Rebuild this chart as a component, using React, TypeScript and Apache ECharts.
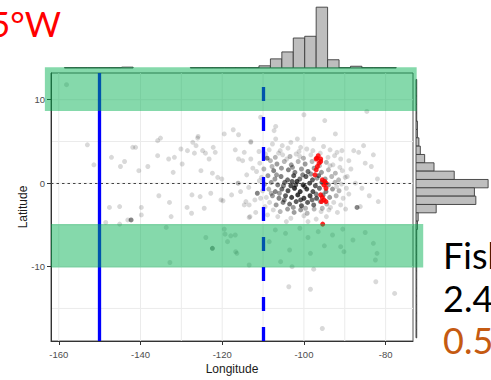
import React, { useEffect, useRef } from "react";
import * as echarts from "echarts";

// Axis extents of the scatter panel
const LON_MIN = -161.9;
const LON_MAX = -73.3;
const LAT_MIN = -18.9;
const LAT_MAX = 13.2;

// Labelled ticks and grid lines
const LON_TICKS = [-160, -140, -120, -100, -80];
const LAT_TICKS = [-10, 0, 10];
const LON_GRID = [-160, -150, -140, -130, -120, -110, -100, -90, -80];
const LAT_GRID = [-15, -10, -5, 0, 5, 10];

// Reference lines
const SOLID_LON = -150;
const DASHED_LON = -110;
const ZERO_LAT = 0;

// Highlighted latitude bands: [lonFrom, lonTo, latFrom, latTo]
const BANDS: [number, number, number, number][] = [
  [-163.4, -72.4, 8.65, 13.9],
  [-161.9, -70.8, -10.1, -4.9],
];

// Observations: [longitude, latitude, number of stacked records]
const GRAY_POINTS: [number, number, number][] = [
  [-158.1, 11.8, 1], [-153.0, 4.6, 1], [-151.4, 2.2, 1], [-147.1, 3.1, 1],
  [-144.9, 2.0, 1], [-143.9, 2.6, 1], [-147.6, -2.9, 1], [-145.1, -2.8, 1],
  [-145.1, -4.9, 1], [-143.1, -4.4, 1], [-148.5, -4.7, 1], [-141.9, 4.3, 1],
  [-141.2, 4.3, 1], [-140.4, 1.5, 1], [-138.2, 2.0, 1], [-135.8, 5.1, 1],
  [-135.1, 5.4, 1], [-135.8, 3.3, 1], [-133.1, 2.9, 1], [-131.7, 3.1, 1],
  [-132.0, 1.3, 1], [-130.1, 4.1, 1], [-129.8, 2.3, 1], [-128.5, 3.9, 1],
  [-127.2, 4.9, 1], [-126.4, 4.5, 1], [-126.0, 5.4, 1], [-125.9, 5.6, 1],
  [-126.8, 3.6, 1], [-124.8, 3.9, 1], [-124.1, 3.6, 1], [-123.2, 2.9, 1],
  [-122.2, 4.3, 1], [-121.7, 3.7, 1], [-125.2, 1.5, 1], [-122.4, 1.2, 1],
  [-121.1, 0.7, 1], [-120.1, 0.5, 1], [-119.5, 5.9, 1], [-117.3, 6.4, 1],
  [-116.0, 5.8, 1], [-116.8, 4.0, 1], [-116.0, 2.9, 1], [-115.0, 2.7, 1],
  [-113.0, 5.0, 1], [-113.0, 2.9, 1], [-114.6, 3.7, 1], [-116.1, 0.0, 2],
  [-135.5, -1.5, 1], [-132.9, -2.3, 1], [-127.4, -1.4, 1], [-125.4, -1.6, 1],
  [-122.8, -1.2, 1], [-117.7, -1.4, 1], [-128.6, -2.9, 1], [-127.5, -3.6, 1],
  [-124.4, -3.0, 1], [-132.5, -4.0, 1], [-139.8, -2.9, 1], [-139.8, -3.8, 1],
  [-142.3, -4.4, 4], [-120.3, -2.0, 1], [-119.8, -2.1, 1], [-114.2, -2.2, 1],
  [-113.4, -2.6, 1], [-111.8, -3.5, 1], [-113.2, -4.0, 1], [-133.7, -5.3, 1],
  [-124.0, -6.5, 1], [-122.4, -7.8, 3], [-119.5, -5.5, 1], [-119.3, -6.1, 1],
  [-117.9, -6.3, 1], [-116.8, -6.2, 1], [-118.7, -7.0, 1], [-116.7, -8.2, 1],
  [-132.8, -9.5, 1], [-116.4, -8.4, 1], [-103.5, -8.0, 1], [-98.4, -8.4, 1],
  [-105.7, -9.4, 1], [-102.9, -10.0, 1], [-97.6, -10.3, 1], [-82.5, -9.2, 1],
  [-82.1, -8.4, 1], [-90.2, -8.2, 1], [-103.7, -12.4, 1], [-98.4, -12.7, 1],
  [-82.4, -11.8, 1], [-77.8, -13.2, 1], [-95.5, -17.4, 1], [-113.4, -9.8, 1],
  [-110.6, 7.9, 1], [-106.9, 6.8, 1], [-100.0, 8.2, 1], [-94.9, 7.5, 1],
  [-84.6, 8.6, 1], [-107.0, -5.6, 1], [-104.5, -6.0, 1], [-101.0, -5.4, 1],
  [-99.0, -6.5, 1], [-96.5, -5.8, 1], [-93.0, -6.2, 1], [-90.5, -5.5, 1],
  [-88.0, -6.8, 1], [-85.0, -5.9, 1], [-83.0, -7.2, 1], [-108.5, -7.0, 1],
  [-95.0, -7.5, 1], [-91.0, -7.6, 1],
  [-107.3, 6.3, 1], [-92.3, 5.9, 1], [-113.0, 4.9, 1], [-107.7, 4.7, 1],
  [-106.9, 5.3, 1], [-105.3, 4.5, 1], [-103.2, 4.9, 1], [-101.6, 5.3, 1],
  [-100.8, 4.3, 1], [-97.6, 5.3, 1], [-91.9, 3.7, 1], [-90.7, 3.9, 1],
  [-87.8, 3.9, 1], [-86.6, 3.7, 1], [-85.4, 4.5, 1], [-89.0, 2.7, 1],
  [-85.0, 2.4, 1], [-89.4, 0.8, 1], [-87.4, 0.0, 1], [-85.8, -0.6, 1],
  [-87.0, -2.9, 4], [-86.2, -2.8, 1], [-89.8, -3.1, 1], [-113.4, -4.1, 1],
  [-114.6, -2.6, 1], [-111.4, -1.2, 4], [-109.0, 3.0, 4], [-83.5, 2.0, 1],
  [-82.0, 0.5, 1], [-84.0, -1.5, 1], [-81.8, -2.2, 1], [-83.0, 3.4, 1],
  [-114.0, 1.0, 1], [-113.5, -0.5, 1], [-112.5, 1.8, 1], [-112.0, -2.0, 1],
  [-115.5, -1.0, 1],
  // dense core
  [-108.5, 4.0, 1], [-105.8, 3.9, 1], [-103.9, 4.2, 1], [-101.2, 3.8, 1],
  [-99.3, 4.1, 1], [-97.8, 3.9, 1], [-95.2, 4.4, 1], [-93.6, 4.0, 1],
  [-109.4, 3.5, 1], [-107.0, 3.1, 2], [-105.2, 3.4, 1], [-103.4, 3.2, 2],
  [-101.9, 3.5, 1], [-100.1, 3.0, 2], [-98.3, 3.4, 1], [-96.0, 3.6, 1],
  [-94.1, 3.1, 1], [-92.5, 3.3, 1], [-91.0, 2.9, 1],
  [-110.8, 2.4, 1], [-108.2, 2.7, 2], [-106.6, 2.3, 3], [-104.8, 2.6, 2],
  [-103.1, 2.2, 3], [-101.4, 2.6, 2], [-99.7, 2.3, 3], [-98.0, 2.6, 2],
  [-96.2, 2.1, 2], [-94.5, 2.5, 2], [-92.9, 2.2, 1], [-91.2, 1.9, 1],
  [-111.6, 1.4, 1], [-109.8, 1.7, 2], [-107.4, 1.5, 4], [-105.5, 1.8, 3],
  [-103.8, 1.6, 4], [-102.2, 1.3, 4], [-100.6, 1.7, 3], [-99.0, 1.4, 5],
  [-97.5, 1.8, 3], [-95.7, 1.3, 3], [-94.0, 1.6, 2], [-92.3, 1.2, 2],
  [-90.6, 1.5, 1],
  [-110.4, 0.7, 1], [-108.8, 0.9, 3], [-107.1, 0.5, 3], [-105.6, 0.8, 4],
  [-104.0, 0.4, 5], [-102.5, 0.9, 6], [-101.0, 0.5, 5], [-99.5, 0.8, 6],
  [-97.9, 0.4, 6], [-96.4, 0.9, 5], [-94.8, 0.5, 3], [-93.2, 0.8, 2],
  [-91.5, 0.4, 2], [-89.9, 0.7, 1],
  [-109.6, -0.1, 2], [-108.0, 0.1, 3], [-106.4, -0.2, 4], [-104.7, 0.1, 5],
  [-103.2, -0.3, 7], [-101.7, 0.2, 8], [-100.2, -0.2, 8], [-98.6, 0.0, 7],
  [-97.2, -0.3, 6], [-95.6, 0.1, 5], [-94.0, -0.2, 3], [-92.4, 0.1, 2],
  [-90.8, -0.1, 1],
  [-110.1, -0.9, 1], [-108.6, -0.7, 2], [-107.0, -1.0, 4], [-105.4, -0.7, 5],
  [-103.9, -0.9, 7], [-102.3, -0.6, 9], [-100.9, -1.0, 9], [-99.3, -0.7, 8],
  [-97.8, -1.0, 7], [-96.2, -0.6, 5], [-94.6, -1.0, 4], [-93.0, -0.7, 3],
  [-91.4, -0.9, 2], [-89.6, -0.6, 1],
  [-109.2, -1.7, 1], [-107.7, -1.5, 3], [-106.1, -1.8, 4], [-104.5, -1.5, 6],
  [-103.0, -1.7, 8], [-101.5, -1.4, 9], [-100.0, -1.8, 8], [-98.5, -1.5, 8],
  [-96.9, -1.8, 6], [-95.3, -1.4, 4], [-93.7, -1.7, 3], [-92.1, -1.5, 2],
  [-90.4, -1.8, 1],
  [-108.4, -2.3, 1], [-106.8, -2.6, 3], [-105.1, -2.3, 4], [-103.5, -2.5, 5],
  [-101.9, -2.2, 6], [-100.6, -2.7, 6], [-99.1, -2.3, 6], [-97.6, -2.6, 5],
  [-96.0, -2.2, 3], [-94.4, -2.5, 2], [-92.7, -2.3, 1], [-91.0, -2.6, 1],
  [-107.5, -3.2, 1], [-105.8, -3.4, 2], [-104.0, -3.1, 3], [-102.4, -3.5, 3],
  [-100.8, -3.2, 3], [-99.2, -3.6, 2], [-97.5, -3.1, 2], [-95.8, -3.4, 1],
  [-93.9, -3.2, 1], [-91.8, -3.5, 1],
  [-106.4, -4.0, 1], [-103.2, -4.2, 1], [-100.0, -3.9, 1], [-97.0, -4.3, 1],
  [-94.5, -4.0, 1],
  // records lying between the rows above
  [-107.8, 2.0, 2], [-104.2, 2.9, 1], [-102.8, 1.9, 3], [-100.3, 1.0, 4],
  [-98.3, 1.1, 3], [-96.8, 0.6, 3], [-105.0, -0.3, 4], [-102.0, -0.2, 6],
  [-99.8, -0.4, 5], [-97.0, -1.3, 4], [-104.8, -2.0, 4], [-102.6, -2.9, 3],
  [-99.6, -3.0, 2], [-98.0, -2.0, 5], [-100.8, -2.0, 6], [-106.0, -1.2, 3],
  [-108.0, -1.2, 2], [-109.5, -2.8, 1], [-110.6, -1.8, 1], [-110.9, 0.3, 1],
  [-93.5, -2.9, 1], [-92.0, -0.4, 1], [-93.6, 2.1, 1], [-106.2, 3.6, 1],
  [-101.0, 3.2, 1], [-97.0, 3.0, 1], [-104.3, -4.6, 1], [-99.0, -4.6, 1],
  [-95.5, -3.0, 2], [-108.9, -3.8, 1], [-111.0, 3.8, 1], [-89.0, -1.3, 1],
  [-88.5, 1.7, 1], [-102.9, 0.2, 6], [-106.7, 1.0, 3],
];

// Highlighted observations: [longitude, latitude]
const RED_POINTS: [number, number][] = [
  [-96.8, 3.0], [-95.9, 2.9], [-97.0, 2.9], [-96.5, 3.3], [-96.3, 2.4],
  [-95.9, 2.6], [-96.7, 2.0], [-97.0, 1.6], [-97.3, 1.0], [-95.5, 0.4],
  [-94.9, 0.2], [-94.6, 0.0], [-95.1, -0.2], [-94.6, -0.6], [-95.9, -1.4],
  [-95.5, -1.7], [-95.1, -2.0], [-94.6, -2.2], [-95.7, -2.2], [-95.4, -4.9],
];

// Marginal histogram of longitude
const LON_BIN_START = -161.4;
const LON_BIN_WIDTH = 2.8;
const LON_COUNTS = [
  0, 1, 1, 1, 1, 1, 2, 0, 0, 0, 0, 0, 1, 1, 1, 1,
  1, 1, 5, 21, 37, 69, 73, 140, 19, 1, 4, 1, 1, 1, 0,
];

// Marginal histogram of latitude (bins run downward from the top edge)
const LAT_BIN_TOP = 12.44;
const LAT_BIN_WIDTH = 0.98;
const LAT_COUNTS = [
  1, 1, 1, 1, 1, 2, 2, 4, 6, 12, 25, 53, 100, 81, 83, 28,
  3, 2, 1, 1, 1, 1, 1, 1, 1, 1, 1, 1, 1, 1, 1, 0,
];

const PANEL = { left: 51, top: 73, width: 362, height: 273 };

export default function App() {
  const ref = useRef<HTMLDivElement>(null);

  useEffect(() => {
    if (!ref.current) return;
    const chart = echarts.init(ref.current, undefined, { renderer: "svg" });

    const lonHist = LON_COUNTS.map((c, i) => [
      LON_BIN_START + i * LON_BIN_WIDTH,
      LON_BIN_START + (i + 1) * LON_BIN_WIDTH,
      c,
    ]).filter((d) => d[2] > 0);
    const latHist = LAT_COUNTS.map((c, i) => [
      LAT_BIN_TOP - i * LAT_BIN_WIDTH,
      LAT_BIN_TOP - (i + 1) * LAT_BIN_WIDTH,
      c,
    ]).filter((d) => d[2] > 0);

    const barStyle = { fill: "#bebebe", stroke: "#3c3c3c", lineWidth: 0.9 };
    const gridColor = "#ebebeb";
    const sans = "Liberation Sans, Arial, sans-serif";
    const axisText = { color: "#4d4d4d", fontSize: 9.5, fontFamily: sans };

    const option: any = {
      animation: false,
      grid: [
        { ...PANEL, show: true, borderColor: "#555", borderWidth: 1, backgroundColor: "transparent" },
        { left: PANEL.left, width: PANEL.width, top: 5, height: 63 },
        { left: 416, top: PANEL.top, width: 78, height: PANEL.height },
      ],
      xAxis: [
        {
          type: "value", gridIndex: 0, min: LON_MIN, max: LON_MAX,
          splitLine: { show: false },
          axisLine: { onZero: false, lineStyle: { color: "#333", width: 1 } },
          axisTick: { show: true, length: 4, customValues: LON_TICKS, lineStyle: { color: "#333" } },
          axisLabel: { ...axisText, margin: 8, customValues: LON_TICKS },
          name: "Longitude", nameLocation: "middle", nameGap: 22, nameMoveOverlap: false,
          nameTextStyle: { color: "#1a1a1a", fontSize: 12, fontFamily: sans },
        },
        { type: "value", gridIndex: 1, min: LON_MIN, max: LON_MAX, show: false },
        { type: "value", gridIndex: 2, min: 0, max: 104, show: false },
      ],
      yAxis: [
        {
          type: "value", gridIndex: 0, min: LAT_MIN, max: LAT_MAX,
          splitLine: { show: false },
          axisLine: { onZero: false, lineStyle: { color: "#333", width: 1 } },
          axisTick: { show: true, length: 4, customValues: LAT_TICKS, lineStyle: { color: "#333" } },
          axisLabel: { ...axisText, margin: 6, customValues: LAT_TICKS },
          name: "Latitude", nameLocation: "middle", nameGap: 22, nameMoveOverlap: false,
          nameTextStyle: { color: "#1a1a1a", fontSize: 12, fontFamily: sans },
        },
        { type: "value", gridIndex: 1, min: 0, max: 145, show: false },
        { type: "value", gridIndex: 2, min: LAT_MIN, max: LAT_MAX, show: false },
      ],
      series: [
        {
          // vertical grid lines
          type: "custom", xAxisIndex: 0, yAxisIndex: 0, z: 0, silent: true,
          data: LON_GRID.map((v) => [v]),
          encode: { x: 0 },
          renderItem: (params: any, api: any) => {
            const cs = params.coordSys;
            const x = api.coord([api.value(0), 0])[0];
            return { type: "line", shape: { x1: x, y1: cs.y, x2: x, y2: cs.y + cs.height }, style: { stroke: gridColor, lineWidth: 1 } };
          },
        },
        {
          // horizontal grid lines
          type: "custom", xAxisIndex: 0, yAxisIndex: 0, z: 0, silent: true,
          data: LAT_GRID.map((v) => [v]),
          encode: { y: 0 },
          renderItem: (params: any, api: any) => {
            const cs = params.coordSys;
            const y = api.coord([LON_MIN, api.value(0)])[1];
            return { type: "line", shape: { x1: cs.x, y1: y, x2: cs.x + cs.width, y2: y }, style: { stroke: gridColor, lineWidth: 1 } };
          },
        },
        {
          type: "scatter", xAxisIndex: 0, yAxisIndex: 0, z: 2, silent: true,
          symbolSize: 5,
          data: GRAY_POINTS.map(([lon, lat, n]) => ({
            value: [lon, lat],
            itemStyle: { color: "#000", opacity: 1 - Math.pow(0.85, n) },
          })),
          markLine: {
            silent: true, symbol: "none", label: { show: false },
            data: [
              { yAxis: ZERO_LAT, lineStyle: { color: "#444", width: 1, type: [2.5, 3] } },
            ],
          },
        },
        {
          type: "scatter", xAxisIndex: 0, yAxisIndex: 0, z: 3, silent: true,
          symbolSize: 5,
          itemStyle: { color: "#ff0000", opacity: 0.85 },
          data: RED_POINTS,
          markLine: {
            silent: true, symbol: "none", label: { show: false },
            data: [
              { xAxis: SOLID_LON, lineStyle: { color: "#0000ff", width: 3.3, type: "solid" } },
              { xAxis: DASHED_LON, lineStyle: { color: "#0000ff", width: 3.3, type: [14, 16] } },
            ],
          },
        },
        {
          type: "custom", xAxisIndex: 1, yAxisIndex: 1, silent: true,
          data: lonHist, encode: { x: [0, 1], y: 2 },
          renderItem: (_p: any, api: any) => {
            const a = api.coord([api.value(0), 0]);
            const b = api.coord([api.value(1), api.value(2)]);
            return { type: "rect", shape: { x: a[0], y: b[1], width: b[0] - a[0], height: a[1] - b[1] }, style: barStyle };
          },
        },
        {
          type: "custom", xAxisIndex: 2, yAxisIndex: 2, silent: true,
          data: latHist, encode: { y: [0, 1], x: 2 },
          renderItem: (_p: any, api: any) => {
            const a = api.coord([0, api.value(0)]);
            const b = api.coord([api.value(2), api.value(1)]);
            return { type: "rect", shape: { x: a[0], y: a[1], width: b[0] - a[0], height: b[1] - a[1] }, style: barStyle };
          },
        },
      ],
    };

    chart.setOption(option);

    const bandRects = BANDS.map(([lon0, lon1, lat0, lat1]) => {
      const p0 = chart.convertToPixel({ gridIndex: 0 }, [lon0, lat1]) as number[];
      const p1 = chart.convertToPixel({ gridIndex: 0 }, [lon1, lat0]) as number[];
      return {
        type: "rect", z: 100, silent: true,
        shape: { x: p0[0], y: p0[1], width: p1[0] - p0[0], height: p1[1] - p0[1] },
        style: { fill: "rgba(0,176,80,0.48)" },
      };
    });

    const slideFont = "Lato, 'Open Sans', sans-serif";
    chart.setOption({
      graphic: [
        ...bandRects,
        { type: "text", z: 101, style: { text: "5°W", x: 61, y: 23, align: "right", verticalAlign: "middle", fill: "#ff0000", font: `35px ${slideFont}` } },
        { type: "text", z: 101, style: { text: "Fish", x: 443, y: 255, align: "left", verticalAlign: "middle", fill: "#000", font: `36px ${slideFont}` } },
        { type: "text", z: 101, style: { text: "2.4", x: 443, y: 298, align: "left", verticalAlign: "middle", fill: "#000", font: `36px ${slideFont}` } },
        { type: "text", z: 101, style: { text: "0.5", x: 443, y: 340, align: "left", verticalAlign: "middle", fill: "#c55a11", font: `36px ${slideFont}` } },
      ],
    });

    return () => chart.dispose();
  }, []);

  return (
    <div
      ref={ref}
      style={{ position: "fixed", left: 0, top: 0, width: 491, height: 380, background: "#fff" }}
    />
  );
}
